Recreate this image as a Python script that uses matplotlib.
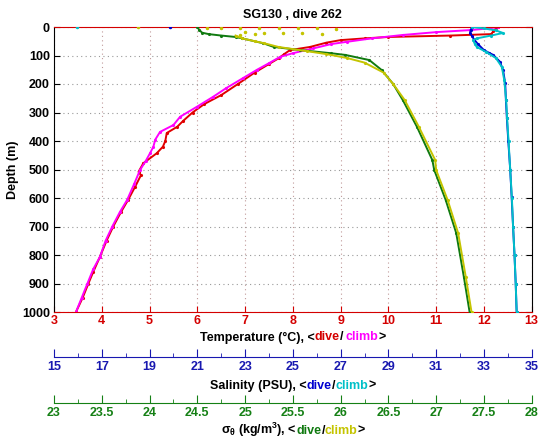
import numpy as np
import matplotlib
matplotlib.use('Agg')
from matplotlib import pyplot as plt
from matplotlib.ticker import FixedLocator, FormatStrFormatter

plt.rcParams['font.family'] = ['Liberation Sans', 'DejaVu Sans']
plt.rcParams['font.weight'] = 'bold'
plt.rcParams['font.size'] = 9
plt.rcParams['mathtext.fontset'] = 'custom'
plt.rcParams['mathtext.rm'] = 'Liberation Sans:bold'
plt.rcParams['mathtext.it'] = 'Liberation Sans:bold'
plt.rcParams['mathtext.bf'] = 'Liberation Sans:bold'

# temperature, dive (red) and climb (magenta)
t_dive_depth = [0, 5, 15, 25, 30, 35, 40, 46, 55, 70, 81, 95, 110, 130, 160, 200, 239, 270, 300,
                330, 350, 372, 400, 420, 443, 478, 508, 520, 560, 607, 650, 700, 750, 807, 860,
                900, 950, 1000]
t_dive = [12.3, 12.25, 12.2, 12.15, 11.3, 10.0, 9.5, 9.0, 8.7, 8.36, 7.94, 7.82, 7.7, 7.5, 7.2,
          6.85, 6.5, 6.15, 5.9, 5.7, 5.58, 5.36, 5.33, 5.28, 5.15, 4.87, 4.77, 4.82, 4.7, 4.55,
          4.4, 4.24, 4.1, 3.96, 3.82, 3.72, 3.6, 3.46]
t_climb_depth = [0, 5, 11, 18, 28, 40, 52, 60, 75, 92, 105, 127, 150, 180, 215, 245, 280, 315,
                 344, 368, 395, 420, 443, 470, 502, 550, 607, 649, 700, 750, 807, 850, 900, 950,
                 1000]
t_climb = [12.3, 12.1, 11.7, 11.0, 10.3, 9.65, 9.13, 8.8, 8.43, 8.0, 7.73, 7.5, 7.25, 6.95, 6.6,
           6.33, 5.99, 5.64, 5.5, 5.22, 5.12, 5.08, 5.01, 4.92, 4.8, 4.68, 4.53, 4.38, 4.22,
           4.08, 3.96, 3.82, 3.7, 3.58, 3.46]

# salinity, dive (blue) and climb (cyan)
s_dive_depth = [0, 10, 21, 32, 45, 60, 81, 90, 98, 122, 151, 197, 256, 320, 400, 500, 596, 700,
                800, 900, 1000]
s_dive = [32.5, 32.45, 32.42, 32.5, 32.6, 32.75, 33.0, 33.2, 33.39, 33.67, 33.8, 33.89, 33.92,
          33.96, 34.02, 34.1, 34.16, 34.22, 34.28, 34.33, 34.37]
s_climb_depth = [0, 5, 12, 21, 30, 40, 46, 60, 70, 88, 109, 140, 186, 256, 320, 400, 500, 600,
                 700, 800, 900, 1000]
s_climb = [32.5, 33.0, 33.5, 33.8, 33.3, 32.7, 32.55, 32.62, 32.7, 33.1, 33.5, 33.75, 33.85,
           33.93, 33.97, 34.03, 34.1, 34.17, 34.22, 34.28, 34.33, 34.37]

# sigma-theta, dive (green) and climb (yellow)
d_dive_depth = [0, 10, 20, 25, 30, 35, 40, 57, 70, 81, 92, 98, 116, 151, 200, 256, 351, 467, 502,
                607, 723, 877, 1000]
d_dive = [24.5, 24.52, 24.55, 24.62, 24.75, 24.9, 24.97, 25.19, 25.3, 25.58, 25.9, 26.05, 26.3,
          26.43, 26.55, 26.65, 26.8, 26.96, 26.98, 27.1, 27.21, 27.29, 27.35]
d_climb_depth = [30, 40, 50, 57, 70, 85, 95, 109, 125, 160, 200, 256, 351, 467, 502, 607, 723,
                 877, 1000]
d_climb = [24.9, 24.97, 25.1, 25.2, 25.35, 25.65, 25.85, 26.07, 26.25, 26.45, 26.55, 26.67,
           26.82, 26.99, 27.0, 27.12, 27.23, 27.31, 27.37]

# scattered near-surface samples
surf_d_climb_depth = [0, 2, 3, 3, 4, 4, 5, 5, 6, 18, 20, 21, 22, 24, 26, 28]
surf_d_climb = [23.88, 24.6, 24.75, 24.95, 25.15, 25.35, 25.55, 25.75, 25.95, 25.0, 25.2, 25.4,
                25.6, 25.8, 25.1, 24.95]
surf_s_dive_depth = [0]
surf_s_dive = [19.86]
surf_s_climb_depth = [0]
surf_s_climb = [15.96]

sal_ticks = [15, 17, 19, 21, 23, 25, 27, 29, 31, 33, 35]
sig_ticks = [23, 23.5, 24, 24.5, 25, 25.5, 26, 26.5, 27, 27.5, 28]

RED = '#d40000'
BLUE = '#1818b0'
GREEN = '#158015'

W, H = 543, 442
L, R, T, B = 54, 531.7, 27, 312


def color_text(fig, xc, ybase, parts, size=9):
    r = fig.canvas.get_renderer()
    texts, widths = [], []
    for s, c, gap in parts:
        t = fig.text(0, 1 - ybase / H, s, color=c, va='baseline', ha='left',
                     fontsize=size, fontweight='bold')
        texts.append(t)
        widths.append(t.get_window_extent(r).width + gap)
    x = xc - sum(widths) / 2
    for t, w in zip(texts, widths):
        t.set_x(x / W)
        x += w


def scale_axis(fig, ypix, ticks, color):
    a = fig.add_axes([L / W, 1 - ypix / H, (R - L) / W, 1e-5])
    a.set_xlim(ticks[0], ticks[-1])
    a.set_yticks([])
    for s in ['top', 'left', 'right']:
        a.spines[s].set_visible(False)
    a.spines['bottom'].set_color(color)
    a.patch.set_visible(False)
    a.xaxis.set_major_locator(FixedLocator(ticks))
    a.xaxis.set_minor_locator(FixedLocator(np.convolve(ticks, [0.5, 0.5], 'valid')))
    a.xaxis.set_major_formatter(FormatStrFormatter('%g'))
    a.tick_params(axis='x', which='major', direction='in', length=6, colors=color, pad=3)
    a.tick_params(axis='x', which='minor', direction='in', length=3, color=color)
    return a


fig = plt.figure(figsize=(W / 100, H / 100), dpi=100)
ax = fig.add_axes([L / W, 1 - B / H, (R - L) / W, (B - T) / H])
ax.set_xlim(3, 13)
ax.set_ylim(1000, 0)
ax.set_xticks(range(3, 14))
ax.set_yticks(range(0, 1001, 100))
ax.tick_params(axis='x', colors=RED, direction='in', top=True, length=4, pad=2)
ax.tick_params(axis='y', direction='in', right=True, length=4, pad=3)
ax.spines['top'].set_color(RED)
ax.spines['bottom'].set_color(RED)
ax.xaxis.grid(True, linestyle=(0, (1, 3)), color='#c09a9a', linewidth=0.8)
ax.yaxis.grid(True, linestyle=(0, (1, 3)), color='#999999', linewidth=0.8)
ax.set_axisbelow(True)
ax.set_ylabel('Depth (m)', fontsize=9, fontweight='bold', labelpad=2)

kw = dict(marker='.', markersize=2.5, linewidth=1.4)
dots = dict(linestyle='none', marker='.', markersize=3)
ax.plot(t_dive, t_dive_depth, color='#e00000', **kw)
ax.plot(t_climb, t_climb_depth, color='#ff00ff', **kw)

ax_s = ax.twiny()
ax_s.set_xlim(15, 35)
ax_s.set_axis_off()
ax_s.plot(s_dive, s_dive_depth, color='#0000d0', **kw)
ax_s.plot(s_climb, s_climb_depth, color='#00c0c8', **kw)
ax_s.plot(surf_s_dive, surf_s_dive_depth, color='#0000d0', **dots)
ax_s.plot(surf_s_climb, surf_s_climb_depth, color='#00c0c8', **dots)

ax_d = ax.twiny()
ax_d.set_xlim(23, 28)
ax_d.set_axis_off()
ax_d.plot(d_dive, d_dive_depth, color='#107a10', **kw)
ax_d.plot(d_climb, d_climb_depth, color='#c4c400', **kw)
ax_d.plot(surf_d_climb, surf_d_climb_depth, color='#c4c400', **dots)

scale_axis(fig, 356.7, sal_ticks, BLUE)
scale_axis(fig, 403, sig_ticks, GREEN)

fig.text((L + R) / 2 / W, 1 - 18 / H, 'SG130 , dive 262', ha='center', va='baseline',
         fontsize=9, fontweight='bold')

xc = (L + R) / 2
color_text(fig, xc, 340.5, [('Temperature (°C), <', 'black', 0), ('dive', RED, 0),
                            ('/', 'black', 3), ('climb', '#ff00ff', 0), ('>', 'black', 0)])
color_text(fig, xc, 389, [('Salinity (PSU), <', 'black', 0), ('dive', '#0000d0', 0),
                          ('/', 'black', 0), ('climb', '#00c0c8', 0), ('>', 'black', 0)])
color_text(fig, xc, 434, [(r'$\sigma_\theta$ (kg/m$^3$), <', 'black', 0), ('dive', '#107a10', 0),
                          ('/', 'black', 0), ('climb', '#c4c400', 0), ('>', 'black', 0)])

fig.savefig('out.png', dpi=100)
